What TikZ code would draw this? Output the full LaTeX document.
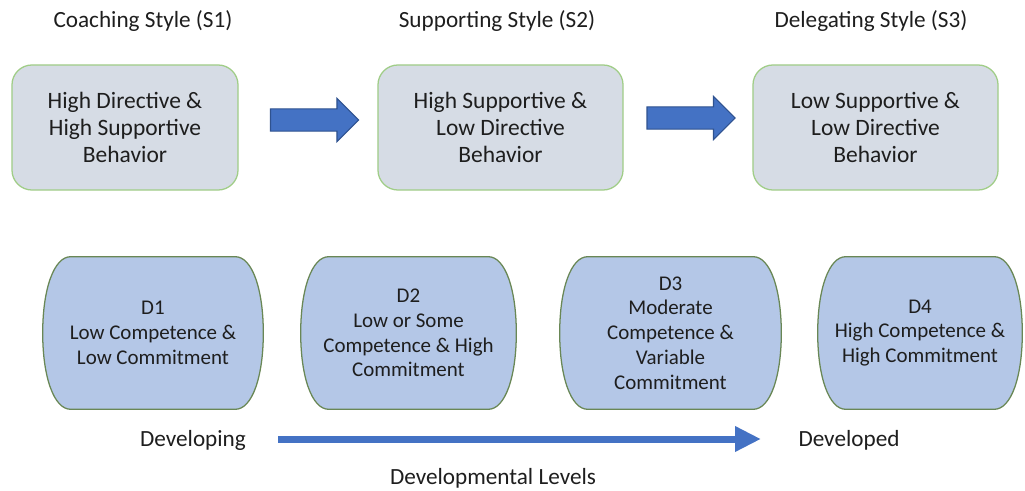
\documentclass[tikz,border=0pt]{standalone}
\usepackage{fontspec}
\setmainfont{Carlito}
\usetikzlibrary{shapes.arrows,arrows.meta,backgrounds}
\definecolor{stylefill}{RGB}{214,220,229}
\definecolor{styleline}{RGB}{160,205,135}
\definecolor{levelfill}{RGB}{180,199,231}
\definecolor{levelline}{RGB}{105,135,85}
\definecolor{arrowblue}{RGB}{68,114,196}
\definecolor{arrowline}{RGB}{47,82,143}
\definecolor{txt}{RGB}{30,30,30}

\begin{document}
\begin{tikzpicture}[x=0.025cm,y=-0.025cm,text=txt]
   \tikzset{title/.style={font=\fontsize{16.5}{19.5}\selectfont},
   stylebox/.style={draw=styleline,fill=stylefill,line width=0.9pt,rounded corners=0.5cm,minimum height=3.125cm,align=center,font=\fontsize{16.7}{19.3}\selectfont},
   levelbox/.style={minimum height=3.8cm,align=center,font=\fontsize{14.9}{17.6}\selectfont},
   leveloutline/.style={draw=levelline,fill=levelfill,line width=0.9pt},
   blockarrow/.style={single arrow,draw=arrowline,fill=arrowblue,line width=0.8pt,minimum height=2.2cm,inner xsep=0pt,inner ysep=0.2625cm,single arrow head extend=0.2625cm},
   levelarrow/.style={draw=arrowblue,line width=0.175cm,-{Triangle[length=0.65cm,width=0.6cm]}}};
   \useasboundingbox (0,0) rectangle (1025,491);

   % leadership styles
   \node[title] (t1) at (143,21) {Coaching Style (S1)};
   \node[title] (t2) at (497,21) {Supporting Style (S2)};
   \node[title] (t3) at (871,21) {Delegating Style (S3)};
   \node[stylebox,minimum width=5.65cm] (s1) at (125,127.5) {High Directive \&\\High Supportive\\Behavior};
   \node[stylebox,minimum width=6.125cm] (s2) at (500.5,127.5) {High Supportive \&\\Low Directive\\Behavior};
   \node[stylebox,minimum width=6.125cm] (s3) at (875.5,127.5) {Low Supportive \&\\Low Directive\\Behavior};
   \node[blockarrow] (a12) at (309,120) {};
   \node[blockarrow] (a23) at (685.5,118) {};

   % development levels
   \node[levelbox,minimum width=5.5cm] (d1) at (153,333) {D1\\Low Competence \&\\Low Commitment};
   \node[levelbox,minimum width=5.375cm] (d2) at (408.5,333) {D2\\Low or Some\\Competence \& High\\Commitment};
   \node[levelbox,minimum width=5.525cm] (d3) at (670.5,333) {D3\\Moderate\\Competence \&\\Variable\\Commitment};
   \node[levelbox,minimum width=5.1cm] (d4) at (920,333) {D4\\High Competence \&\\High Commitment};
   \begin{scope}[on background layer]
   \foreach \n in {d1,d2,d3,d4}
      \draw[leveloutline] ([xshift=-0.7cm]\n.north east) .. controls ([xshift=-0.28cm]\n.north east) and ([yshift=1.1cm]\n.east) .. (\n.east)
         .. controls ([yshift=-1.1cm]\n.east) and ([xshift=-0.28cm]\n.south east) .. ([xshift=-0.7cm]\n.south east)
         -- ([xshift=0.7cm]\n.south west) .. controls ([xshift=0.28cm]\n.south west) and ([yshift=-1.1cm]\n.west) .. (\n.west)
         .. controls ([yshift=1.1cm]\n.west) and ([xshift=0.28cm]\n.north west) .. ([xshift=0.7cm]\n.north west) -- cycle;
   \end{scope}

   \node[title] (developing) at (193,440) {Developing};
   \node[title] (developed) at (849,440) {Developed};
   \node[title] (levels) at (493,478) {Developmental Levels};
   \coordinate (lvlstart) at (278,439);
   \coordinate (lvlend) at (761,439);
   \draw[levelarrow] (lvlstart) -- (lvlend);
\end{tikzpicture}
\end{document}
